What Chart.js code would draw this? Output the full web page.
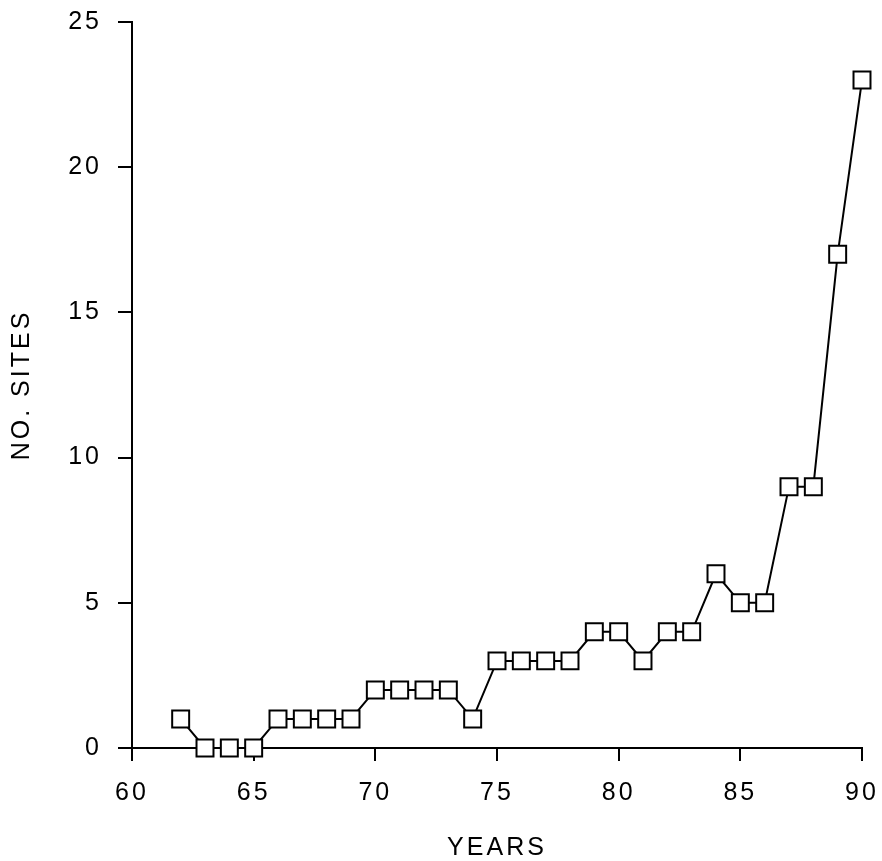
<!DOCTYPE html>
<html>
<head>
<meta charset="utf-8">
<script src="https://cdn.jsdelivr.net/npm/chart.js@4/dist/chart.umd.min.js"></script>
<style>
html, body { margin: 0; padding: 0; background: #fff; }
</style>
</head>
<body>
<canvas id="myLineChart" width="882" height="861"></canvas>
<script>
/* DATA */
var years = [62, 63, 64, 65, 66, 67, 68, 69, 70, 71, 72, 73, 74, 75, 76, 77, 78, 79, 80, 81, 82, 83, 84, 85, 86, 87, 88, 89, 90];
var sites = [1, 0, 0, 0, 1, 1, 1, 1, 2, 2, 2, 2, 1, 3, 3, 3, 3, 4, 4, 3, 4, 4, 6, 5, 5, 9, 9, 17, 23];
var xTicks = [60, 65, 70, 75, 80, 85, 90];
var yTicks = [0, 5, 10, 15, 20, 25];

var points = [];
for (var i = 0; i < years.length; i++) {
	points.push({ x: years[i], y: sites[i] });
}

// the original lettering is wide, so spread the text a bit
var spacing = {
	id: 'spacing',
	beforeDraw: function(chart) {
		chart.ctx.letterSpacing = '3px';
	}
};

/* LINE CHART */
var ctxLine = document.getElementById("myLineChart").getContext("2d");
var myLineChart = new Chart(ctxLine, {
	type: 'line',
	data: {
		datasets: [{
			data: points,
			borderColor: '#000',
			borderWidth: 2,
			backgroundColor: '#fff',
			pointStyle: 'rect',
			pointRadius: 12,
			pointBorderWidth: 2,
			pointBorderColor: '#000',
			pointBackgroundColor: '#fff',
			tension: 0,
			clip: false
		}]
	},
	plugins: [spacing],
	options: {
		responsive: false,
		animation: false,
		layout: { padding: { top: 22, right: 20, left: 0, bottom: 0 } },
		plugins: {
			legend: { display: false },
			tooltip: { enabled: false }
		},
		scales: {
			x: {
				type: 'linear',
				min: 60,
				max: 90,
				afterBuildTicks: function(scale) {
					scale.ticks = xTicks.map(function(v) { return { value: v }; });
				},
				afterFit: function(scale) {
					scale.height = 113;
					scale.paddingLeft = 0;
					scale.paddingRight = 0;
				},
				grid: { drawOnChartArea: false, tickLength: 13, color: '#000', lineWidth: 2 },
				border: { display: true, color: '#000', width: 2 },
				ticks: {
					color: '#000',
					padding: 17,
					maxRotation: 0,
					font: { family: 'Liberation Sans', size: 25 }
				},
				title: {
					display: true,
					text: 'YEARS',
					color: '#000',
					padding: { top: 0, bottom: 0 },
					font: { family: 'Liberation Sans', size: 25, lineHeight: 1 }
				}
			},
			y: {
				min: 0,
				max: 25,
				afterBuildTicks: function(scale) {
					scale.ticks = yTicks.map(function(v) { return { value: v }; });
				},
				afterFit: function(scale) {
					scale.width = 132;
					scale.paddingTop = 0;
					scale.paddingBottom = 0;
				},
				grid: { drawOnChartArea: false, tickLength: 14, color: '#000', lineWidth: 2 },
				border: { display: true, color: '#000', width: 2 },
				ticks: {
					color: '#000',
					padding: 16,
					font: { family: 'Liberation Sans', size: 25 }
				},
				title: {
					display: true,
					text: 'NO. SITES',
					color: '#000',
					padding: { top: 10, bottom: 0 },
					font: { family: 'Liberation Sans', size: 25, lineHeight: 1 }
				}
			}
		}
	}
});
</script>
</body>
</html>
